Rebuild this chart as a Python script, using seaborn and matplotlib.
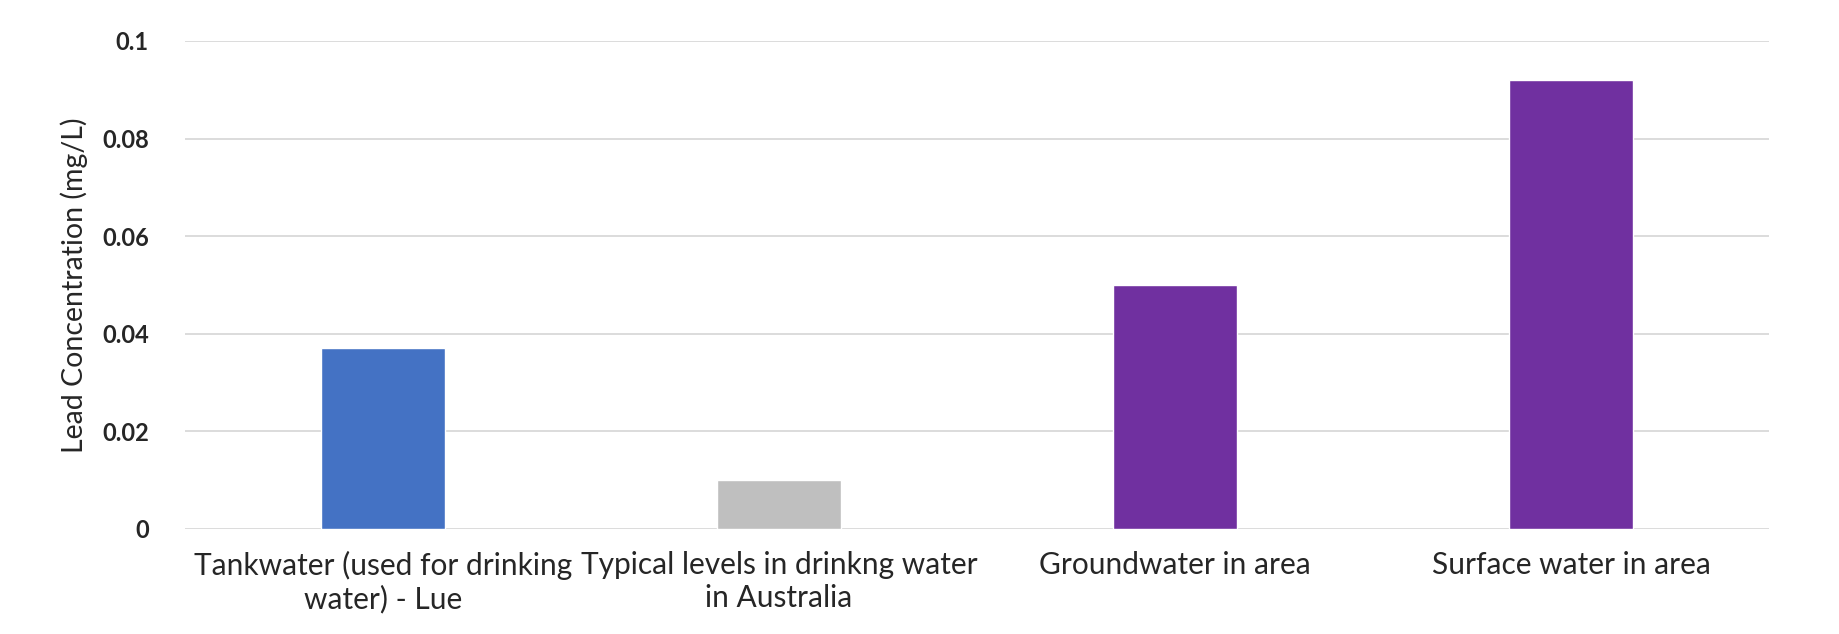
import matplotlib
matplotlib.use("Agg")
import matplotlib.pyplot as plt
import seaborn as sns
import pandas as pd

# Lead concentration by water source (mg/L)
categories = [
    "Tankwater (used for drinking\nwater) - Lue",
    "Typical levels in drinkng water\nin Australia",
    "Groundwater in area",
    "Surface water in area",
]
lead_mg_per_l = [0.037, 0.010, 0.050, 0.092]
bar_colors = ["#4472C4", "#BFBFBF", "#7030A0", "#7030A0"]
y_ticks = [0, 0.02, 0.04, 0.06, 0.08, 0.1]
y_tick_labels = ["0", "0.02", "0.04", "0.06", "0.08", "0.1"]

df = pd.DataFrame({"source": categories, "lead": lead_mg_per_l})

sns.set_theme(style="white")
plt.rcParams["font.family"] = ["Lato", "DejaVu Sans"]

fig = plt.figure(figsize=(18.39, 6.34), dpi=100)
ax = fig.add_axes([185 / 1839, 1 - 529 / 634, (1769 - 185) / 1839, (529 - 41) / 634])

sns.barplot(
    data=df, x="source", y="lead", hue="source",
    palette=dict(zip(categories, bar_colors)),
    width=0.315, legend=False, saturation=1, ax=ax,
)

ax.set_ylim(0, 0.1)
ax.set_xlim(-0.5, 3.5)
ax.set_yticks(y_ticks)
ax.set_yticklabels(y_tick_labels, fontsize=17, fontweight="bold", color="#262626")
ax.tick_params(axis="y", length=0, pad=26)
ax.tick_params(axis="x", length=0, pad=16, labelsize=21.5, labelcolor="#262626")
ax.yaxis.grid(True, color="#D9D9D9", linewidth=1.3)
ax.set_axisbelow(True)
for s in ax.spines.values():
    s.set_visible(False)
ax.set_xlabel("")
ax.set_ylabel("Lead Concentration (mg/L)", fontsize=20.5, color="#262626", labelpad=10)

fig.savefig("out.png", dpi=100, facecolor="white")
